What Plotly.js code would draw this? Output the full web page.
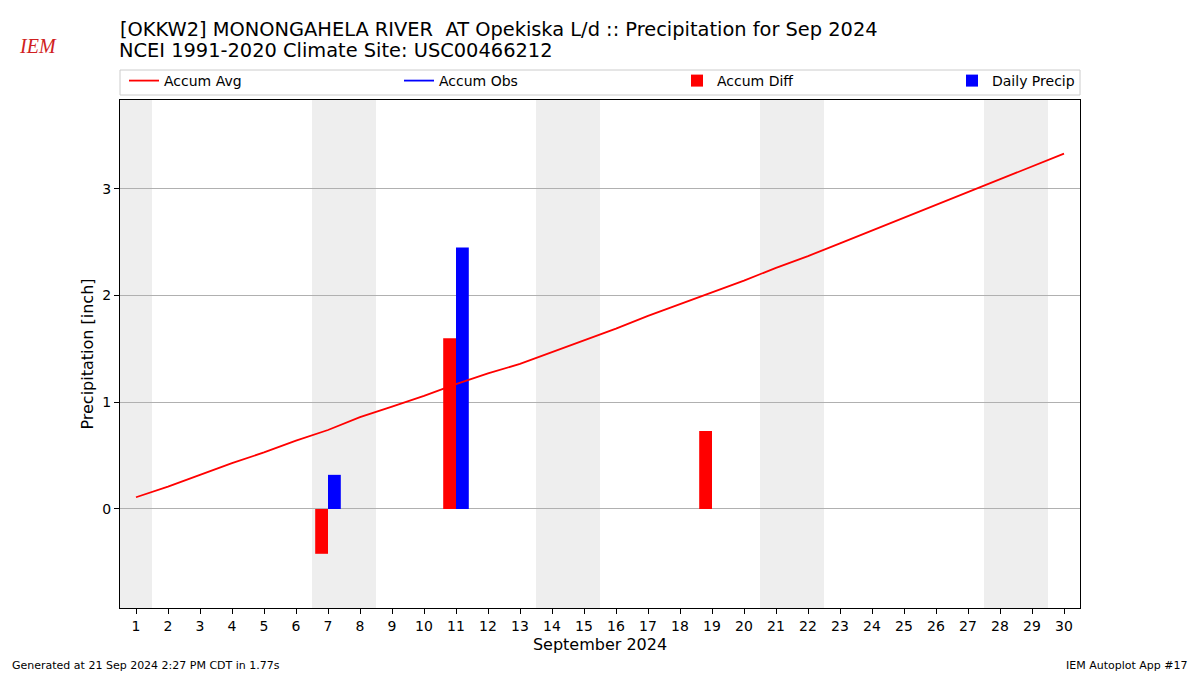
<!DOCTYPE html>
<html>
<head>
<meta charset="utf-8">
<script src="https://cdn.plot.ly/plotly-3.0.1.min.js"></script>
<style>
  html, body { margin: 0; padding: 0; background: #fff; }
  #grafico { width: 1200px; height: 675px; }
</style>
</head>
<body>
<div id="grafico"></div>
<script>
// Dias de setembro 2024
var dias = [1, 2, 3, 4, 5, 6, 7, 8, 9, 10, 11, 12, 13, 14, 15,
            16, 17, 18, 19, 20, 21, 22, 23, 24, 25, 26, 27, 28, 29, 30];

// Precipitacao acumulada media (clima 1991-2020)
var accumAvg = [0.11, 0.21, 0.32, 0.43, 0.53, 0.64, 0.74, 0.86, 0.96, 1.06,
                1.17, 1.27, 1.36, 1.47, 1.58, 1.69, 1.81, 1.92, 2.03, 2.14,
                2.26, 2.37, 2.49, 2.61, 2.73, 2.85, 2.97, 3.09, 3.21, 3.33];

// Acumulado observado (sem dados desenhados)
var accumObs = [];

// Diferenca acumulada
var diffDias = [7, 11, 19];
var accumDiff = [-0.42, 1.60, 0.73];

// Precipitacao diaria
var precipDias = [7, 11];
var dailyPrecip = [0.32, 2.45];

var fonte = 'DejaVu Sans, sans-serif';

// posicao de cada item da legenda (px a partir da esquerda do grafico)
function legendaEm(px) {
    return {
        orientation: 'h', x: px / 960, xanchor: 'left', y: 1 + 35 / 508, yanchor: 'top',
        bgcolor: 'rgba(0,0,0,0)', borderwidth: 0,
        font: {family: fonte, size: 14}
    };
}

function initGrafico() {
    var traces = [
        {
            x: dias, y: accumAvg, type: 'scatter', mode: 'lines',
            name: 'Accum Avg', line: {color: '#ff0000', width: 1.8}, legend: 'legend'
        },
        {
            x: accumObs.length ? dias : [null], y: accumObs.length ? accumObs : [null],
            type: 'scatter', mode: 'lines',
            name: 'Accum Obs', line: {color: '#0000ff', width: 1.8}, legend: 'legend2'
        },
        {
            x: diffDias, y: accumDiff, type: 'bar', name: 'Accum Diff',
            width: 0.4, offset: -0.4, marker: {color: '#ff0000', line: {width: 0}},
            legend: 'legend3'
        },
        {
            x: precipDias, y: dailyPrecip, type: 'bar', name: 'Daily Precip',
            width: 0.4, offset: 0, marker: {color: '#0000ff', line: {width: 0}},
            legend: 'legend4'
        }
    ];

    // Fins de semana sombreados
    var shapes = [];
    dias.forEach(function(d) {
        var dow = new Date(2024, 8, d).getDay();
        if (dow === 0 || dow === 6) {
            shapes.push({
                type: 'rect', xref: 'x', yref: 'paper', layer: 'below',
                x0: d - 0.5, x1: d + 0.5, y0: 0, y1: 1,
                fillcolor: '#eeeeee', line: {width: 0}
            });
        }
    });
    // Moldura da legenda
    shapes.push({
        type: 'rect', xref: 'paper', yref: 'paper',
        x0: 0, x1: 1, y0: 1 + 5 / 508, y1: 1 + 30 / 508,
        fillcolor: 'rgba(0,0,0,0)', line: {color: '#cccccc', width: 1}
    });

    var layout = {
        width: 1200, height: 675,
        margin: {l: 120, r: 120, t: 100, b: 67},
        paper_bgcolor: '#ffffff', plot_bgcolor: '#ffffff',
        font: {family: fonte, size: 14, color: '#000'},
        title: {
            text: '[OKKW2] MONONGAHELA RIVER\u00a0 AT Opekiska L/d :: Precipitation for Sep 2024',
            xref: 'container', x: 120 / 1200, xanchor: 'left',
            yref: 'container', y: 1 - 29 / 675, yanchor: 'middle',
            font: {family: fonte, size: 19.4, color: '#000'}
        },
        showlegend: true,
        legend: legendaEm(4),
        legend2: legendaEm(279),
        legend3: legendaEm(557),
        legend4: legendaEm(832),
        barmode: 'overlay',
        xaxis: {
            range: [0.5, 30.5], tickmode: 'array', tickvals: dias,
            ticktext: dias.map(String),
            ticks: 'outside', ticklen: 5, tickcolor: '#000',
            showline: true, linecolor: '#000', linewidth: 1, mirror: true,
            showgrid: false, zeroline: false,
            tickfont: {family: fonte, size: 14},
            title: {text: 'September 2024', font: {family: fonte, size: 16}, standoff: 6}
        },
        yaxis: {
            range: [-0.928, 3.833], tickvals: [0, 1, 2, 3],
            ticks: 'outside', ticklen: 5, tickcolor: '#000',
            showline: true, linecolor: '#000', linewidth: 1, mirror: true,
            showgrid: true, gridcolor: '#b0b0b0', gridwidth: 1, zeroline: false,
            tickfont: {family: fonte, size: 14},
            title: {text: 'Precipitation [inch]', font: {family: fonte, size: 16}, standoff: 4}
        },
        shapes: shapes,
        annotations: [
            {
                text: 'NCEI 1991-2020 Climate Site: USC00466212', xref: 'paper', yref: 'paper',
                x: -3 / 960, y: 1 + 49 / 508, xanchor: 'left', yanchor: 'middle',
                showarrow: false, font: {family: fonte, size: 19.4}
            },
            {
                text: '<i>IEM</i>', xref: 'paper', yref: 'paper',
                x: -103 / 960, y: 1 + 54 / 508, xanchor: 'left', yanchor: 'middle',
                showarrow: false, font: {family: 'Liberation Serif, serif', size: 20, color: '#d02020'}
            },
            {
                text: 'Generated at 21 Sep 2024 2:27 PM CDT in 1.77s', xref: 'paper', yref: 'paper',
                x: -110 / 960, y: -57 / 508, xanchor: 'left', yanchor: 'middle',
                showarrow: false, font: {family: fonte, size: 11}
            },
            {
                text: 'IEM Autoplot App #17', xref: 'paper', yref: 'paper',
                x: 1 + 110 / 960, y: -57 / 508, xanchor: 'right', yanchor: 'middle',
                showarrow: false, font: {family: fonte, size: 11}
            }
        ]
    };

    Plotly.newPlot('grafico', traces, layout, {staticPlot: true});
}

document.addEventListener('DOMContentLoaded', function() {
    initGrafico();
});
</script>
</body>
</html>
